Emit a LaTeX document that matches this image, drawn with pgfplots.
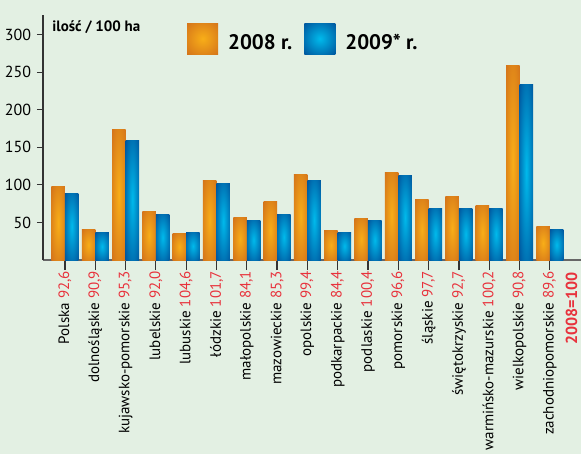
\documentclass[border=0pt]{standalone}
\usepackage{pgfplots}
\pgfplotsset{compat=1.18}
\usepackage{fontspec}
\setmainfont{PT Sans}
\definecolor{bg}{HTML}{E3F0E3}
\definecolor{orEdge}{HTML}{D2701A}
\definecolor{orMid}{HTML}{F8AE18}
\definecolor{blEdge}{HTML}{004F98}
\definecolor{blMid}{HTML}{00BAEC}
\definecolor{labred}{HTML}{E8323C}
\definecolor{axgray}{HTML}{333333}

\pgfdeclareradialshading{orbar}{\pgfpoint{0bp}{0bp}}{color(0bp)=(orMid); color(38bp)=(orEdge); color(72bp)=(orEdge)}
\pgfdeclareradialshading{blbar}{\pgfpoint{0bp}{0bp}}{color(0bp)=(blMid); color(38bp)=(blEdge); color(72bp)=(blEdge)}

\pgfplotstableread{
x y2008 y2009
0  98 89
1  40 36
2  173 159
3  65 60
4  35 37
5  106 102
6  56 53
7  78 61
8  114 106
9  39 37
10 55 53
11 117 113
12 80 69
13 84 68
14 73 69
15 259 234
16 45 40
}\dane

% y unit in pt, so that 326 units give 122.5pt of axis height
\def\yu{0.375767}

% bars as shaded nodes hanging from each data point down to y=0
\pgfplotsset{
  shadedbar/.style 2 args={
    draw=none, mark=none,
    visualization depends on={rawy \as \rawy},
    nodes near coords={\null},
    every node near coord/.style={anchor=north, inner sep=0pt, outer sep=0pt,
      minimum width=6.75pt, minimum height=\rawy*\yu pt, xshift=#1,
      shade, shading=#2},
  },
}

\begin{document}
\begin{tikzpicture}
\path[use as bounding box, fill=bg] (-21.5pt,-97pt) rectangle (269pt,130pt);
\begin{axis}[
    scale only axis,
    width=269pt, y=\yu pt,
    xmin=-0.726, xmax=17.03,
    ymin=0, ymax=326,
    axis x line=bottom, axis y line=left,
    axis line style={-, line width=1pt},
    x axis line style={draw=gray!80!black},
    y axis line style={draw=axgray},
    ytick={50,100,150,200,250,300},
    xtick={0,...,16},
    xticklabels={
      {Polska \textcolor{labred}{92,6}},
      {dolnośląskie \textcolor{labred}{90,9}},
      {kujawsko-pomorskie \textcolor{labred}{95,3}},
      {lubelskie \textcolor{labred}{92,0}},
      {lubuskie \textcolor{labred}{104,6}},
      {łódzkie \textcolor{labred}{101,7}},
      {małopolskie \textcolor{labred}{84,1}},
      {mazowieckie \textcolor{labred}{85,3}},
      {opolskie \textcolor{labred}{99,4}},
      {podkarpackie \textcolor{labred}{84,4}},
      {podlaskie \textcolor{labred}{100,4}},
      {pomorskie \textcolor{labred}{96,6}},
      {śląskie \textcolor{labred}{97,7}},
      {świętokrzyskie \textcolor{labred}{92,7}},
      {warmińsko-mazurskie \textcolor{labred}{100,2}},
      {wielkopolskie \textcolor{labred}{90,8}},
      {zachodniopomorskie \textcolor{labred}{89,6}}},
    tick align=outside,
    xtick style={draw=axgray, line width=0.6pt, /pgfplots/major tick length=5pt},
    ytick style={draw=axgray, line width=0.6pt, /pgfplots/major tick length=3pt},
    x tick label style={rotate=90, anchor=east, font=\fontsize{7.5}{8}\selectfont, inner sep=1pt},
    y tick label style={font=\fontsize{8}{9}\selectfont, inner sep=1.5pt},
    /pgf/number format/assume math mode=true,
    legend style={draw=none, fill=none, at={(0.256,0.985)}, anchor=north west,
      font=\fontsize{10.5}{12}\selectfont\bfseries, legend columns=2,
      /tikz/every odd column/.append style={column sep=3pt},
      /tikz/every even column/.append style={column sep=4pt}},
    clip=false,
]
\addlegendimage{legend image code/.code={\path[draw=none, shade, shading=orbar] (0pt,-5.5pt) rectangle (15.5pt,10pt);}}
\addlegendentry{2008 r.}
\addlegendimage{legend image code/.code={\path[draw=none, shade, shading=blbar] (0pt,-5.5pt) rectangle (15.5pt,10pt);}}
\addlegendentry{2009* r.}
\addplot[forget plot, shadedbar={-3.375pt}{orbar}] table[x=x, y=y2008] {\dane};
\addplot[forget plot, shadedbar={3.375pt}{blbar}] table[x=x, y=y2009] {\dane};
\node[anchor=north west, font=\fontsize{7.5}{8}\selectfont\bfseries, inner sep=0pt]
  at (rel axis cs:0,1) [xshift=4.5pt, yshift=-2.5pt] {ilość / 100 ha};
\node[rotate=90, anchor=east, font=\fontsize{8}{9}\selectfont\bfseries, text=labred, inner sep=1pt]
  at ([yshift=-5pt]axis cs:16.72,0) {2008=100};
\end{axis}
\end{tikzpicture}
\end{document}
